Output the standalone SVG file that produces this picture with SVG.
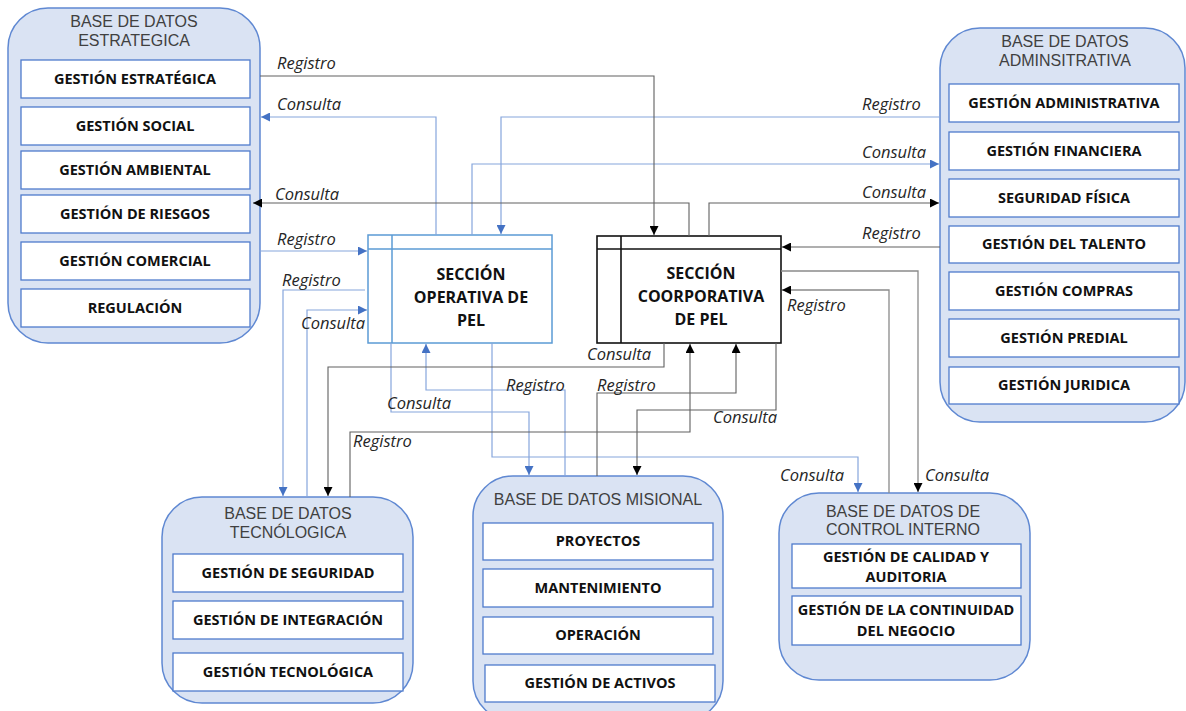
<svg xmlns="http://www.w3.org/2000/svg" width="1186" height="711" viewBox="0 0 1186 711">
  <defs>
    <style>
      .db { fill: #dae3f3; stroke: #5f88d2; stroke-width: 1.5; }
      .item { fill: #ffffff; stroke: #4f7bcc; stroke-width: 1.3; }
      .dbt { font-family: "Liberation Sans", Arial, sans-serif; font-size: 16px; fill: #404040; text-anchor: middle; }
      .itt { font-family: "Open Sans", "Liberation Sans", sans-serif; font-size: 14.5px; font-weight: bold; fill: #111111; text-anchor: middle; }
      .sec { font-family: "Open Sans", "Liberation Sans", sans-serif; font-size: 16px; font-weight: bold; fill: #111111; text-anchor: middle; }
      .lbl { font-family: "Open Sans", "Liberation Sans", sans-serif; font-size: 16.5px; font-style: italic; fill: #262626; }
      .cb { fill: none; stroke: #86a6dc; stroke-width: 1.2; marker-end: url(#ab); }
      .ck { fill: none; stroke: #606060; stroke-width: 1.1; marker-end: url(#ak); }
      .cg { fill: none; stroke: #8a8a8a; stroke-width: 1.3; marker-end: url(#ak); }
    </style>
    <marker id="ab" viewBox="0 0 10 10" refX="10" refY="5" markerWidth="9" markerHeight="9" markerUnits="userSpaceOnUse" orient="auto">
      <path d="M0,0 L10,5 L0,10 z" fill="#4472c4"/>
    </marker>
    <marker id="ak" viewBox="0 0 10 10" refX="10" refY="5" markerWidth="9" markerHeight="9" markerUnits="userSpaceOnUse" orient="auto">
      <path d="M0,0 L10,5 L0,10 z" fill="#000000"/>
    </marker>
  </defs>

  <rect width="1186" height="711" fill="#ffffff"/>

  <!-- Base de datos estratégica -->
  <g id="bd-estrategica">
    <rect class="db" x="8" y="8" width="252" height="335" rx="40"/>
    <text class="dbt" x="134" y="27">BASE DE DATOS</text>
    <text class="dbt" x="134" y="46">ESTRATEGICA</text>
    <rect class="item" x="21" y="60" width="229" height="38"/>
    <text class="itt" x="135" y="84">GESTIÓN ESTRATÉGICA</text>
    <rect class="item" x="21" y="107" width="229" height="38"/>
    <text class="itt" x="135" y="131">GESTIÓN SOCIAL</text>
    <rect class="item" x="21" y="151" width="229" height="38"/>
    <text class="itt" x="135" y="175">GESTIÓN AMBIENTAL</text>
    <rect class="item" x="21" y="195" width="229" height="38"/>
    <text class="itt" x="135" y="219">GESTIÓN DE RIESGOS</text>
    <rect class="item" x="21" y="242" width="229" height="38"/>
    <text class="itt" x="135" y="266">GESTIÓN COMERCIAL</text>
    <rect class="item" x="21" y="289" width="229" height="38"/>
    <text class="itt" x="135" y="313">REGULACIÓN</text>
  </g>

  <!-- Base de datos administrativa -->
  <g id="bd-administrativa">
    <rect class="db" x="940" y="28" width="245" height="394" rx="40"/>
    <text class="dbt" x="1065" y="47">BASE DE DATOS</text>
    <text class="dbt" x="1065" y="66">ADMINSITRATIVA</text>
    <rect class="item" x="949" y="84" width="230" height="38"/>
    <text class="itt" x="1064" y="108">GESTIÓN ADMINISTRATIVA</text>
    <rect class="item" x="949" y="132" width="230" height="38"/>
    <text class="itt" x="1064" y="156">GESTIÓN FINANCIERA</text>
    <rect class="item" x="949" y="179" width="230" height="38"/>
    <text class="itt" x="1064" y="203">SEGURIDAD FÍSICA</text>
    <rect class="item" x="949" y="226" width="230" height="37"/>
    <text class="itt" x="1064" y="249">GESTIÓN DEL TALENTO</text>
    <rect class="item" x="949" y="272" width="230" height="38"/>
    <text class="itt" x="1064" y="296">GESTIÓN COMPRAS</text>
    <rect class="item" x="949" y="319" width="230" height="38"/>
    <text class="itt" x="1064" y="343">GESTIÓN PREDIAL</text>
    <rect class="item" x="949" y="367" width="230" height="37"/>
    <text class="itt" x="1064" y="390">GESTIÓN JURIDICA</text>
  </g>

  <!-- Base de datos tecnológica -->
  <g id="bd-tecnologica">
    <rect class="db" x="162" y="497" width="251" height="206" rx="40"/>
    <text class="dbt" x="288" y="519">BASE DE DATOS</text>
    <text class="dbt" x="288" y="538">TECNÓLOGICA</text>
    <rect class="item" x="173" y="554" width="230" height="38"/>
    <text class="itt" x="288" y="578">GESTIÓN DE SEGURIDAD</text>
    <rect class="item" x="173" y="601" width="230" height="38"/>
    <text class="itt" x="288" y="625">GESTIÓN DE INTEGRACIÓN</text>
    <rect class="item" x="173" y="653" width="230" height="38"/>
    <text class="itt" x="288" y="677">GESTIÓN TECNOLÓGICA</text>
  </g>

  <!-- Base de datos misional -->
  <g id="bd-misional">
    <rect class="db" x="473" y="476" width="250" height="245" rx="40"/>
    <text class="dbt" x="598" y="505">BASE DE DATOS MISIONAL</text>
    <rect class="item" x="483" y="523" width="230" height="37"/>
    <text class="itt" x="598" y="546">PROYECTOS</text>
    <rect class="item" x="483" y="569" width="230" height="38"/>
    <text class="itt" x="598" y="593">MANTENIMIENTO</text>
    <rect class="item" x="483" y="617" width="230" height="37"/>
    <text class="itt" x="598" y="640">OPERACIÓN</text>
    <rect class="item" x="485" y="665" width="230" height="37"/>
    <text class="itt" x="600" y="688">GESTIÓN DE ACTIVOS</text>
  </g>

  <!-- Base de datos de control interno -->
  <g id="bd-control-interno">
    <rect class="db" x="779" y="493" width="251" height="187" rx="40"/>
    <text class="dbt" x="903" y="517">BASE DE DATOS DE</text>
    <text class="dbt" x="903" y="535">CONTROL INTERNO</text>
    <rect class="item" x="792" y="544" width="229" height="44"/>
    <text class="itt" x="906" y="562">GESTIÓN DE CALIDAD Y</text>
    <text class="itt" x="906" y="582">AUDITORIA</text>
    <rect class="item" x="792" y="596" width="229" height="49"/>
    <text class="itt" x="906" y="615">GESTIÓN DE LA CONTINUIDAD</text>
    <text class="itt" x="906" y="636">DEL NEGOCIO</text>
  </g>

  <!-- Sección operativa -->
  <g id="seccion-operativa">
    <rect x="368" y="235" width="184" height="108" fill="#ffffff" stroke="#5b9bd5" stroke-width="1.5"/>
    <line x1="368" y1="249" x2="552" y2="249" stroke="#5b9bd5" stroke-width="1.5"/>
    <line x1="392" y1="235" x2="392" y2="343" stroke="#5b9bd5" stroke-width="1.5"/>
    <text class="sec" x="471" y="280">SECCIÓN</text>
    <text class="sec" x="471" y="303">OPERATIVA DE</text>
    <text class="sec" x="471" y="326">PEL</text>
  </g>

  <!-- Sección coorporativa -->
  <g id="seccion-coorporativa">
    <rect x="597" y="236" width="184" height="107" fill="#ffffff" stroke="#111111" stroke-width="1.6"/>
    <line x1="597" y1="249" x2="781" y2="249" stroke="#111111" stroke-width="1.6"/>
    <line x1="621" y1="236" x2="621" y2="343" stroke="#111111" stroke-width="1.6"/>
    <text class="sec" x="701" y="279">SECCIÓN</text>
    <text class="sec" x="701" y="302">COORPORATIVA</text>
    <text class="sec" x="701" y="325">DE PEL</text>
  </g>

  <!-- connectors -->
  <g id="connectors">
    <!-- blue: Sección Operativa -->
    <path class="cb" d="M436,235 V117 H261"/>
    <path class="cb" d="M940,117 H501 V234"/>
    <path class="cb" d="M472,235 V164 H939"/>
    <path class="cb" d="M259,251 H367"/>
    <path class="cb" d="M365,290 H283 V496"/>
    <path class="cb" d="M307,497 V310 H367"/>
    <path class="cb" d="M391,343 V412 H529 V475"/>
    <path class="cb" d="M565,476 V390 H426 V344"/>
    <path class="cb" d="M492,343 V457 H858 V492"/>
    <!-- black: Sección Coorporativa -->
    <path class="ck" d="M260,76 H654 V235"/>
    <path class="ck" d="M689,236 V203 H253"/>
    <path class="ck" d="M709,236 V203 H939"/>
    <path class="ck" d="M940,247 H782"/>
    <path class="ck" d="M664,343 V367 H328 V496"/>
    <path class="ck" d="M350,497 V432 H690 V344"/>
    <path class="ck" d="M597,476 V393 H736 V344"/>
    <path class="ck" d="M776,343 V410 H637 V475"/>
    <path class="cg" d="M781,271 H918 V492"/>
    <path class="cg" d="M889,493 V290 H782"/>

    <text class="lbl" x="277" y="69">Registro</text>
    <text class="lbl" x="277" y="110">Consulta</text>
    <text class="lbl" x="275" y="200">Consulta</text>
    <text class="lbl" x="277" y="245">Registro</text>
    <text class="lbl" x="282" y="286">Registro</text>
    <text class="lbl" x="301" y="329">Consulta</text>
    <text class="lbl" x="862" y="110">Registro</text>
    <text class="lbl" x="862" y="158">Consulta</text>
    <text class="lbl" x="862" y="198">Consulta</text>
    <text class="lbl" x="862" y="239">Registro</text>
    <text class="lbl" x="787" y="311">Registro</text>
    <text class="lbl" x="587" y="360">Consulta</text>
    <text class="lbl" x="506" y="391">Registro</text>
    <text class="lbl" x="597" y="391">Registro</text>
    <text class="lbl" x="387" y="409">Consulta</text>
    <text class="lbl" x="713" y="423">Consulta</text>
    <text class="lbl" x="353" y="447">Registro</text>
    <text class="lbl" x="780" y="481">Consulta</text>
    <text class="lbl" x="925" y="481">Consulta</text>
  </g>
</svg>
